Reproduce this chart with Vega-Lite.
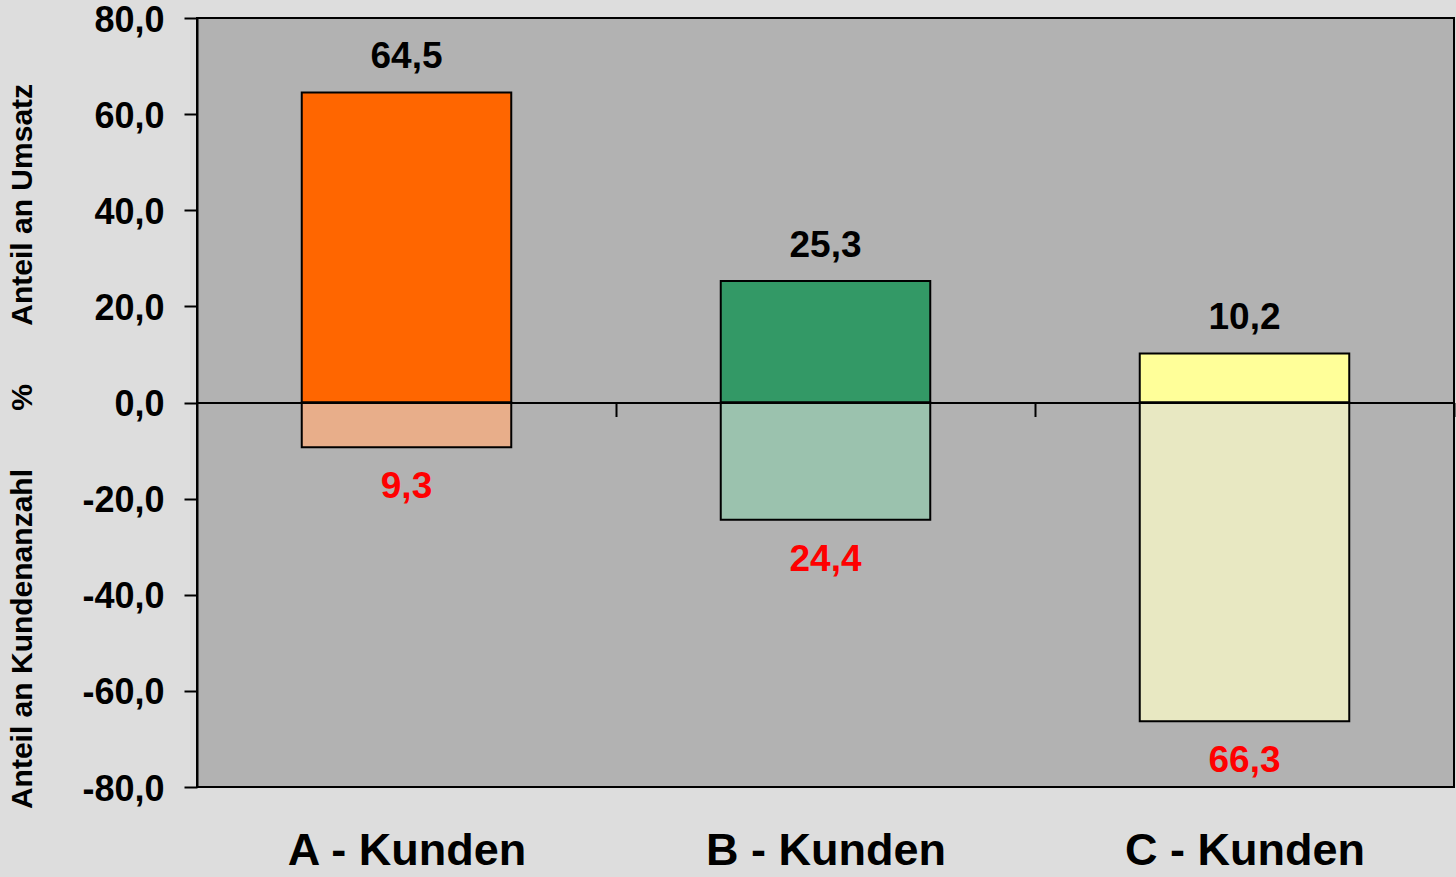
{
  "$schema": "https://vega.github.io/schema/vega-lite/v6.json",
  "autosize": {"type": "none"},
  "padding": {"left": 197, "top": 18, "right": 2, "bottom": 90},
  "width": 1257,
  "height": 769,
  "background": "#DDDDDD",
  "config": {
    "font": "Liberation Sans",
    "view": {"fill": "#B2B2B2", "stroke": "#000000", "strokeWidth": 2},
    "locale": {
      "number": {
        "decimal": ",",
        "thousands": ".",
        "grouping": [3],
        "currency": ["", " €"],
        "minus": "-"
      }
    }
  },
  "data": {
    "values": [
      {"kategorie": "A - Kunden", "teil": "Umsatz", "key": "A Umsatz", "wert": 64.5, "anteil": 64.5},
      {"kategorie": "A - Kunden", "teil": "Kunden", "key": "A Kunden", "wert": -9.3, "anteil": 9.3},
      {"kategorie": "B - Kunden", "teil": "Umsatz", "key": "B Umsatz", "wert": 25.3, "anteil": 25.3},
      {"kategorie": "B - Kunden", "teil": "Kunden", "key": "B Kunden", "wert": -24.4, "anteil": 24.4},
      {"kategorie": "C - Kunden", "teil": "Umsatz", "key": "C Umsatz", "wert": 10.2, "anteil": 10.2},
      {"kategorie": "C - Kunden", "teil": "Kunden", "key": "C Kunden", "wert": -66.3, "anteil": 66.3}
    ]
  },
  "encoding": {
    "x": {
      "field": "kategorie",
      "type": "nominal",
      "sort": null,
      "scale": {"paddingInner": 0.5, "paddingOuter": 0.25},
      "axis": {
        "title": null,
        "orient": "bottom",
        "offset": -384.5,
        "zindex": 1,
        "domainColor": "#000000",
        "domainWidth": 2,
        "tickBand": "center",
        "tickOffset": 209.5,
        "tickColor": "#000000",
        "tickWidth": 2,
        "tickSize": 14,
        "labelAngle": 0,
        "labelOffset": -209.5,
        "labelLimit": 0,
        "labelPadding": 412,
        "labelFontSize": 45,
        "labelFontWeight": "bold",
        "labelColor": "#000000",
        "labelFont": "Liberation Sans",
        "grid": false
      }
    },
    "y": {
      "field": "wert",
      "type": "quantitative",
      "scale": {"domain": [-80, 80], "nice": false, "zero": true},
      "axis": {
        "values": [-80, -60, -40, -20, 0, 20, 40, 60, 80],
        "format": ".1f",
        "grid": false,
        "domainColor": "#000000",
        "domainWidth": 2,
        "tickColor": "#000000",
        "tickWidth": 2,
        "tickSize": 13,
        "labelPadding": 20,
        "labelOffset": 2,
        "labelFontSize": 36,
        "labelFontWeight": "bold",
        "labelColor": "#000000",
        "labelFont": "Liberation Sans",
        "title": "Anteil an Kundenanzahl\u00a0\u00a0\u00a0\u00a0\u00a0\u00a0\u00a0%\u00a0\u00a0\u00a0\u00a0\u00a0\u00a0\u00a0Anteil an Umsatz",
        "titleFontSize": 30,
        "titleFontWeight": "bold",
        "titleColor": "#000000",
        "titleFont": "Liberation Sans",
        "titlePadding": 44,
        "titleY": 428
      }
    }
  },
  "layer": [
    {
      "mark": {"type": "bar", "stroke": "#000000", "strokeWidth": 2},
      "encoding": {
        "color": {
          "field": "key",
          "type": "nominal",
          "legend": null,
          "scale": {
            "domain": ["A Umsatz", "A Kunden", "B Umsatz", "B Kunden", "C Umsatz", "C Kunden"],
            "range": ["#FF6600", "#E8AE8A", "#339966", "#9BC2AE", "#FFFF99", "#E8E8C2"]
          }
        }
      }
    },
    {
      "transform": [{"filter": "datum.teil === 'Umsatz'"}],
      "mark": {"type": "text", "baseline": "alphabetic", "dy": -24, "fontSize": 37, "fontWeight": "bold", "color": "#000000"},
      "encoding": {"text": {"field": "anteil", "type": "quantitative", "format": ".1f"}}
    },
    {
      "transform": [{"filter": "datum.teil === 'Kunden'"}],
      "mark": {"type": "text", "baseline": "top", "dy": 22, "fontSize": 37, "fontWeight": "bold", "color": "#FF0000"},
      "encoding": {"text": {"field": "anteil", "type": "quantitative", "format": ".1f"}}
    }
  ]
}
